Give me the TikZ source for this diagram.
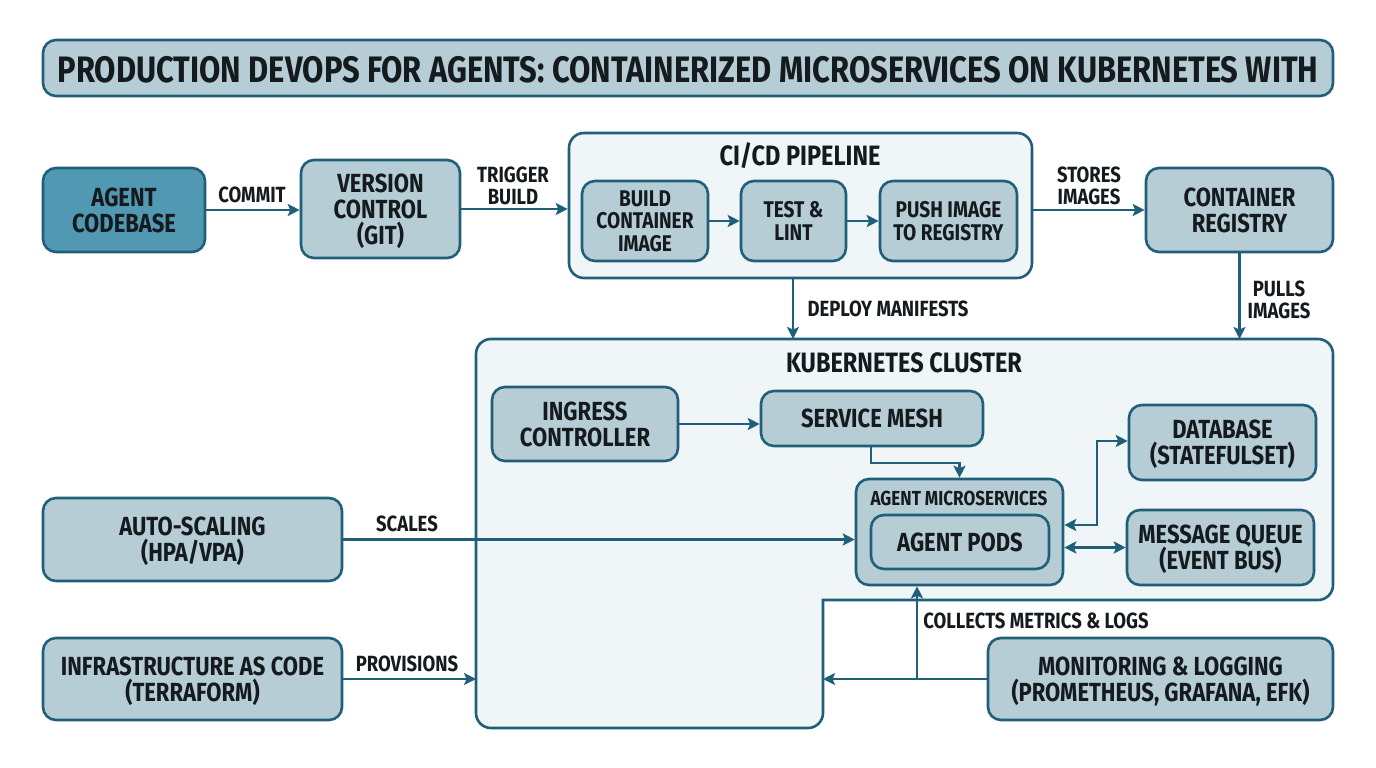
\documentclass[tikz,border=0pt]{standalone}
\usepackage{fontspec}
\setmainfont{Fira Sans}[FakeStretch=0.84]
\usepackage{tikz}
\usetikzlibrary{arrows.meta,arrows}
\usetikzlibrary{positioning}
\definecolor{edgeblue}{HTML}{1F5F7A}
\definecolor{boxfill}{HTML}{B6CDD6}
\definecolor{darkfill}{HTML}{5198B3}
\definecolor{paneFill}{HTML}{F0F5F7}
\definecolor{inkblack}{HTML}{141A1E}
\tikzset{
  box/.style={draw=edgeblue,fill=boxfill,line width=2.6pt,rounded corners=13pt,align=center,text=inkblack,inner sep=0pt,font=\fontsize{26.2}{26}\selectfont\bfseries},
  small/.style={font=\fontsize{22.7}{22.5}\selectfont\bfseries},
  pane/.style={draw=edgeblue,fill=paneFill,line width=2.6pt,rounded corners=15pt},
  lbl/.style={text=inkblack,align=center,inner sep=0pt,font=\fontsize{22}{22}\selectfont\bfseries},
  head/.style={text=inkblack,align=center,inner sep=0pt,font=\fontsize{28}{28}\selectfont\bfseries},
  link/.style={->,draw=edgeblue,line width=2.2pt},
  both/.style={<->,draw=edgeblue,line width=2.2pt}
}
\begin{document}
\begin{tikzpicture}[x=1pt,y=-1pt,>={Stealth[length=12pt,width=12pt,inset=2.5pt]}]
\useasboundingbox (0,0) rectangle (1376,768);
\node[box, minimum width=1290, minimum height=56, font=\fontsize{36.8}{38}\selectfont\bfseries] (Title) at (688,68) {\raisebox{-2pt}[\height][\depth]{PRODUCTION DEVOPS FOR AGENTS: CONTAINERIZED MICROSERVICES ON KUBERNETES WITH}};
\node[box, fill=darkfill, minimum width=162, minimum height=84] (Code) at (124,210) {AGENT\\CODEBASE};
\node[box, minimum width=159, minimum height=98] (Git) at (380.5,209) {VERSION\\CONTROL\\\smash{(GIT)}};
\node[pane, minimum width=463, minimum height=145] (Cicd) at (800.5,205.5) {};
\node[head] (CicdT) at (800,156) {CI/CD PIPELINE};
\node[box, small, minimum width=126, minimum height=80] (Build) at (645,221) {BUILD\\CONTAINER\\IMAGE};
\node[box, small, minimum width=105, minimum height=80] (Test) at (793.5,221) {TEST \&\\LINT};
\node[box, small, minimum width=137, minimum height=80] (Push) at (948.5,221) {PUSH IMAGE\\TO REGISTRY};
\node[box, minimum width=187, minimum height=84] (Reg) at (1239.5,210) {CONTAINER\\REGISTRY};
\draw[pane] (476,339) -- (1333,339) -- (1333,600) [sharp corners] -- (823,600) [rounded corners=15pt] -- (823,728) -- (476,728) -- cycle;
\coordinate (KubeTop) at (793,339);
\coordinate (KubeTopR) at (1239.5,339);
\coordinate (KubeW) at (476,679);
\coordinate (KubeS) at (823,679);
\node[head] (KubeT) at (904,363) {KUBERNETES CLUSTER};
\node[box, minimum width=186, minimum height=74] (Ing) at (585,424) {INGRESS\\CONTROLLER};
\node[box, minimum width=222, minimum height=55] (Mesh) at (872,418.5) {SERVICE MESH};
\node[box, minimum width=207, minimum height=106] (Micro) at (959.5,532) {};
\node[text=inkblack,inner sep=0pt,font=\fontsize{20.3}{20}\selectfont\bfseries] (MicroT) at (959,498) {AGENT MICROSERVICES};
\node[box, minimum width=178, minimum height=54] (Pods) at (960,542) {AGENT PODS};
\node[box, minimum width=187, minimum height=75] (Db) at (1222.5,442.5) {DATABASE\\\smash{(STATEFULSET)}};
\node[box, minimum width=187, minimum height=75] (Mq) at (1220.5,547.5) {MESSAGE QUEUE\\\smash{(EVENT BUS)}};
\node[box, minimum width=299, minimum height=83] (Auto) at (192.5,539.5) {AUTO-SCALING\\\smash{(HPA/VPA)}};
\node[box, minimum width=299, minimum height=82] (Iac) at (192.5,679) {INFRASTRUCTURE AS CODE\\\smash{(TERRAFORM)}};
\node[box, minimum width=345, minimum height=82] (Mon) at (1160.5,679) {MONITORING \& LOGGING\\\smash{(PROMETHEUS, GRAFANA, EFK)}};
\node[lbl] (Lcommit) at (252,195) {COMMIT};
\node[lbl] (Ltrigger) at (513,186) {TRIGGER\\BUILD};
\node[lbl] (Lstores) at (1089,186) {STORES\\IMAGES};
\node[lbl] (Lpulls) at (1279,300) {PULLS\\IMAGES};
\node[lbl] (Ldeploy) at (888,309) {DEPLOY MANIFESTS};
\node[lbl] (Lscales) at (407,524) {SCALES};
\node[lbl] (Lprov) at (407,664) {PROVISIONS};
\node[lbl] (Lcollect) at (1036,621) {COLLECTS METRICS \& LOGS};
\draw[link] (Code.east) -- (Git.west |- Code.east);
\draw[link] (Git.east) -- (Cicd.west |- Git.east);
\draw[link] (Build.east) -- (Test.west);
\draw[link] (Test.east) -- (Push.west);
\draw[link] (Cicd.east |- Reg.west) -- (Reg.west);
\draw[link] (Reg.south) -- (KubeTopR);
\draw[link] (Cicd.south -| KubeTop) -- (KubeTop);
\draw[link] (Ing.east) -- (Mesh.west |- Ing.east);
\draw[link] ([xshift=-1pt]Mesh.south) -- ++(0,16) -| (Micro.north);
\draw[both] ([yshift=7pt]Micro.east) -| (1097,441) -- (Db.west |- 1097,441);
\draw[both] (Mq.west -| Micro.east) -- (Mq.west);
\draw[link] (Auto.east) -- (Micro.west |- Auto.east);
\draw[link] (Iac.east) -- (KubeW);
\draw[link] (Mon.west) -- (KubeS);
\draw[link] (Mon.west -| 917,0) -- (Micro.south -| 917,0);
\end{tikzpicture}
\end{document}
